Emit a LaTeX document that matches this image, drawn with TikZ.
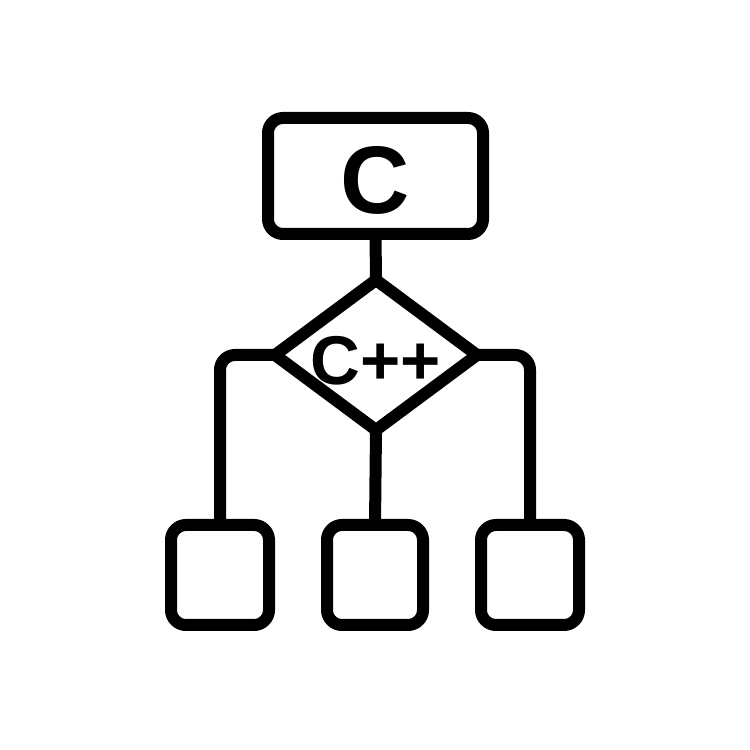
\documentclass[tikz,border=0pt]{standalone}
\usepackage{fontspec}
\newfontfamily\labfont{Liberation Sans}
\usetikzlibrary{shapes.geometric}
\tikzset{
  outline/.style={draw=black, line width=12pt, fill=white, outer sep=0pt},
  boxnode/.style={outline, rectangle, rounded corners=15pt, inner sep=0pt},
  dianode/.style={outline, diamond, inner sep=0pt, line join=round, minimum width=202pt, minimum height=150pt},
  link/.style={draw=black, line width=12pt, rounded corners=15pt},
}
\begin{document}
\begin{tikzpicture}[x=1pt,y=1pt]
\useasboundingbox (0,0) rectangle (750,750);
\fill[white] (0,0) rectangle (750,750);
\coordinate (topc) at (375.5,574);
\coordinate (diac) at (376,395);
\coordinate (lbc) at (220,175);
\coordinate (mbc) at (375,175);
\coordinate (rbc) at (530,175);
\node[boxnode, minimum width=98pt, minimum height=100pt] (lb) at (lbc) {};
\node[boxnode, minimum width=96pt, minimum height=100pt] (mb) at (mbc) {};
\node[boxnode, minimum width=98pt, minimum height=100pt] (rb) at (rbc) {};
\node[dianode] (dia) at (diac) {};
\node[boxnode, minimum width=215pt, minimum height=116pt] (top) at (topc) {};
\draw[link] (top.south) -- (dia.north);
\draw[link] (dia.south) -- (mb.north);
\draw[link] (dia.west) -- (dia.west -| lb.north) -- (lb.north);
\draw[link] (dia.east) -- (dia.east -| rb.north) -- (rb.north);
\node[inner sep=0pt] (ctext) at (375,570) {\labfont\bfseries\fontsize{96}{96}\selectfont C};
\node[inner sep=0pt] (cpptext) at (376,389) {\labfont\bfseries\fontsize{69}{69}\selectfont C++};
\end{tikzpicture}
\end{document}
